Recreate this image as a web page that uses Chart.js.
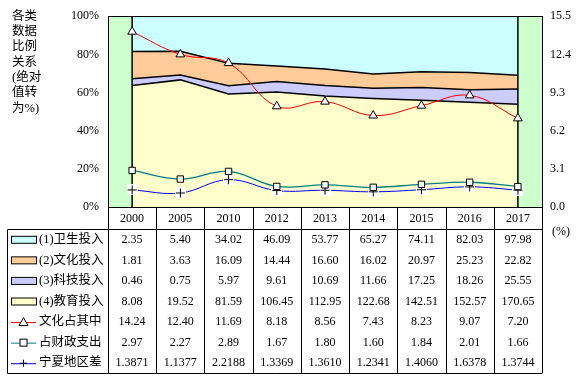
<!DOCTYPE html>
<html>
<head>
<meta charset="utf-8">
<script src="https://cdn.jsdelivr.net/npm/chart.js@4.4.0/dist/chart.umd.min.js"></script>
<style>
html, body { margin: 0; padding: 0; background: #fff; }
</style>
</head>
<body>
<canvas id="chart" width="581" height="379"></canvas>
<script>
// data
const years = ['2000', '2005', '2010', '2012', '2013', '2014', '2015', '2016', '2017'];
const health = [2.35, 5.40, 34.02, 46.09, 53.77, 65.27, 74.11, 82.03, 97.98];
const culture = [1.81, 3.63, 16.09, 14.44, 16.60, 16.02, 20.97, 25.23, 22.82];
const tech = [0.46, 0.75, 5.97, 9.61, 10.69, 11.66, 17.25, 18.26, 25.55];
const education = [8.08, 19.52, 81.59, 106.45, 112.95, 122.68, 142.51, 152.57, 170.65];
const cultureShare = [14.24, 12.40, 11.69, 8.18, 8.56, 7.43, 8.23, 9.07, 7.20];
const fiscalShare = [2.97, 2.27, 2.89, 1.67, 1.80, 1.60, 1.84, 2.01, 1.66];
const regionGap = [1.3871, 1.1377, 2.2188, 1.3369, 1.3610, 1.2341, 1.4060, 1.6378, 1.3744];
const rowNames = ['(1)卫生投入', '(2)文化投入', '(3)科技投入', '(4)教育投入', '文化占其中', '占财政支出', '宁夏地区差'];
const leftTicks = [0, 20, 40, 60, 80, 100];
const rightTicks = [0, 3.1, 6.2, 9.3, 12.4, 15.5];
const titleLines = ['各类', '数据', '比例', '关系', '(绝对', '值转', '为%)'];

const totals = years.map((y, i) => health[i] + culture[i] + tech[i] + education[i]);
const pct = arr => arr.map((v, i) => v / totals[i] * 100);

const serif = '"Liberation Serif", "Times New Roman", serif';
const cjk = '"Liberation Serif", "Noto Sans CJK SC", serif';

// marker for the regional-gap line: black plus on a white square
function plusMarker() {
    const c = document.createElement('canvas');
    c.width = 11; c.height = 11;
    const g = c.getContext('2d');
    g.fillStyle = '#fff';
    g.fillRect(0, 0, 11, 11);
    g.strokeStyle = '#000';
    g.lineWidth = 1;
    g.beginPath();
    g.moveTo(5.5, 1); g.lineTo(5.5, 10);
    g.moveTo(1, 5.5); g.lineTo(10, 5.5);
    g.stroke();
    return c;
}
const plus = plusMarker();

const areaStyle = (color, fill) => ({
    yAxisID: 'y', fill: fill, backgroundColor: color, borderColor: '#000',
    borderWidth: 1.5, pointRadius: 0, tension: 0, order: 10
});

// each table row: values, digits, and how its legend key is drawn
const rows = [
    { values: health, digits: 2, kind: 'area', color: '#CCFFFF' },
    { values: culture, digits: 2, kind: 'area', color: '#FFCC99' },
    { values: tech, digits: 2, kind: 'area', color: '#CCCCFF' },
    { values: education, digits: 2, kind: 'area', color: '#FFFFCC' },
    { values: cultureShare, digits: 2, kind: 'line', color: '#FF0000', marker: 'triangle' },
    { values: fiscalShare, digits: 2, kind: 'line', color: '#008080', marker: 'rect' },
    { values: regionGap, digits: 4, kind: 'line', color: '#0000FF', marker: 'plus' }
];

function drawMarker(ctx, type, x, y) {
    ctx.save();
    ctx.fillStyle = '#fff';
    ctx.strokeStyle = '#000';
    ctx.lineWidth = 1;
    if (type === 'triangle') {
        ctx.beginPath();
        ctx.moveTo(x, y - 4.5); ctx.lineTo(x + 4.5, y + 3.5); ctx.lineTo(x - 4.5, y + 3.5);
        ctx.closePath(); ctx.fill(); ctx.stroke();
    } else if (type === 'rect') {
        ctx.fillRect(x - 3.5, y - 3.5, 7, 7);
        ctx.strokeRect(x - 3.5, y - 3.5, 7, 7);
    } else {
        ctx.beginPath();
        ctx.moveTo(x, y - 3.5); ctx.lineTo(x, y + 3.5);
        ctx.moveTo(x - 3.5, y); ctx.lineTo(x + 3.5, y);
        ctx.stroke();
    }
    ctx.restore();
}

const backdrop = {
    id: 'backdrop',
    beforeDraw(chart) {
        const a = chart.chartArea, ctx = chart.ctx;
        ctx.save();
        ctx.fillStyle = '#CCFFCC';
        ctx.fillRect(a.left, a.top, a.right - a.left, a.bottom - a.top);
        ctx.restore();
    },
    afterDatasetDraw(chart, args) {
        if (args.index !== 0) return;
        // vertical edges of the stacked area block
        const a = chart.chartArea, ctx = chart.ctx, xs = chart.scales.x;
        ctx.save();
        ctx.strokeStyle = '#000';
        ctx.lineWidth = 1.5;
        ctx.beginPath();
        [0, years.length - 1].forEach(i => {
            const x = xs.getPixelForValue(i);
            ctx.moveTo(x, a.top); ctx.lineTo(x, a.bottom);
        });
        ctx.stroke();
        ctx.restore();
    }
};

const table = {
    id: 'table',
    afterDraw(chart) {
        const ctx = chart.ctx, a = chart.chartArea, xs = chart.scales.x;
        const colW = (a.right - a.left) / years.length;
        const bodyTop = 229.5, bodyBottom = 373.5, rowH = (bodyBottom - bodyTop) / rows.length;
        ctx.save();
        // plot frame
        ctx.strokeStyle = '#000';
        ctx.lineWidth = 1;
        ctx.strokeRect(Math.round(a.left) + 0.5, Math.round(a.top) + 0.5,
            Math.round(a.right - a.left), Math.round(a.bottom - a.top));
        // table grid
        ctx.beginPath();
        for (let k = 0; k <= years.length; k++) {
            const x = Math.round(a.left + k * colW) + 0.5;
            ctx.moveTo(x, a.bottom); ctx.lineTo(x, bodyBottom);
        }
        ctx.moveTo(7.5, bodyTop); ctx.lineTo(a.right, bodyTop);
        ctx.moveTo(7.5, bodyTop); ctx.lineTo(7.5, bodyBottom);
        ctx.moveTo(7.5, bodyBottom); ctx.lineTo(a.right, bodyBottom);
        ctx.stroke();

        ctx.fillStyle = '#000';
        ctx.textBaseline = 'middle';
        ctx.textAlign = 'center';
        ctx.font = '12px ' + serif;
        years.forEach((y, i) => ctx.fillText(y, xs.getPixelForValue(i), 218.5));

        rows.forEach((r, j) => {
            const cy = bodyTop + (j + 0.5) * rowH;
            ctx.textAlign = 'center';
            ctx.font = '12px ' + serif;
            ctx.fillStyle = '#000';
            r.values.forEach((v, i) => ctx.fillText(v.toFixed(r.digits), xs.getPixelForValue(i), cy));
            // legend key
            if (r.kind === 'area') {
                ctx.fillStyle = r.color;
                ctx.fillRect(11.5, cy - 3.5, 25, 7);
                ctx.strokeRect(11.5, cy - 3.5, 25, 7);
            } else {
                ctx.strokeStyle = r.color;
                ctx.beginPath();
                ctx.moveTo(11, cy + 0.5); ctx.lineTo(36, cy + 0.5);
                ctx.stroke();
                ctx.strokeStyle = '#000';
                drawMarker(ctx, r.marker, 23.5, cy);
            }
            ctx.fillStyle = '#000';
            ctx.textAlign = 'left';
            ctx.font = '12.5px ' + cjk;
            ctx.fillText(rowNames[j], 39, cy);
        });

        ctx.textAlign = 'center';
        ctx.font = '12px ' + serif;
        ctx.fillText('(%)', 561, 232);

        ctx.textAlign = 'left';
        ctx.font = '12.5px ' + cjk;
        titleLines.forEach((t, i) => ctx.fillText(t, 12, 16.5 + i * 15.3));
        ctx.restore();
    }
};

new Chart(document.getElementById('chart'), {
    type: 'line',
    data: {
        labels: years,
        datasets: [
            Object.assign({ label: rowNames[3], data: pct(education) }, areaStyle('#FFFFCC', 'origin')),
            Object.assign({ label: rowNames[2], data: pct(tech) }, areaStyle('#CCCCFF', '-1')),
            Object.assign({ label: rowNames[1], data: pct(culture) }, areaStyle('#FFCC99', '-1')),
            Object.assign({ label: rowNames[0], data: pct(health) }, areaStyle('#CCFFFF', '-1')),
            {
                label: rowNames[4], data: cultureShare, yAxisID: 'y1', fill: false,
                borderColor: '#FF0000', borderWidth: 1, tension: 0.4, order: 0,
                pointStyle: 'triangle', pointRadius: 5, pointBackgroundColor: '#fff',
                pointBorderColor: '#000', pointBorderWidth: 1
            },
            {
                label: rowNames[5], data: fiscalShare, yAxisID: 'y1', fill: false,
                borderColor: '#008080', borderWidth: 1.3, tension: 0.4, order: 0,
                pointStyle: 'rect', pointRadius: 4.5, pointBackgroundColor: '#fff',
                pointBorderColor: '#000', pointBorderWidth: 1
            },
            {
                label: rowNames[6], data: regionGap, yAxisID: 'y1', fill: false,
                borderColor: '#0000FF', borderWidth: 1, tension: 0.4, order: 0,
                pointStyle: plus, pointRadius: 5
            }
        ]
    },
    options: {
        responsive: false,
        animation: false,
        layout: { padding: { top: 15, left: 0, right: 0, bottom: 0 } },
        plugins: { legend: { display: false }, tooltip: { enabled: false } },
        scales: {
            x: {
                offset: true,
                grid: { display: false, drawTicks: false },
                border: { display: false },
                ticks: { display: false },
                afterFit(s) { s.height = 172; }
            },
            y: {
                stacked: true,
                min: 0, max: 100,
                grid: { display: false, drawTicks: false },
                border: { display: false },
                ticks: { color: '#000', padding: 9, font: { family: serif, size: 12 }, callback: v => v + '%' },
                afterBuildTicks(s) { s.ticks = leftTicks.map(v => ({ value: v })); },
                afterFit(s) { s.width = 108; }
            },
            y1: {
                position: 'right',
                min: 0, max: 15.5,
                grid: { display: false, drawTicks: false },
                border: { display: false },
                ticks: { color: '#000', padding: 8, font: { family: serif, size: 12 }, callback: v => v.toFixed(1) },
                afterBuildTicks(s) { s.ticks = rightTicks.map(v => ({ value: v })); },
                afterFit(s) { s.width = 39; }
            }
        }
    },
    plugins: [backdrop, table]
});
</script>
</body>
</html>
